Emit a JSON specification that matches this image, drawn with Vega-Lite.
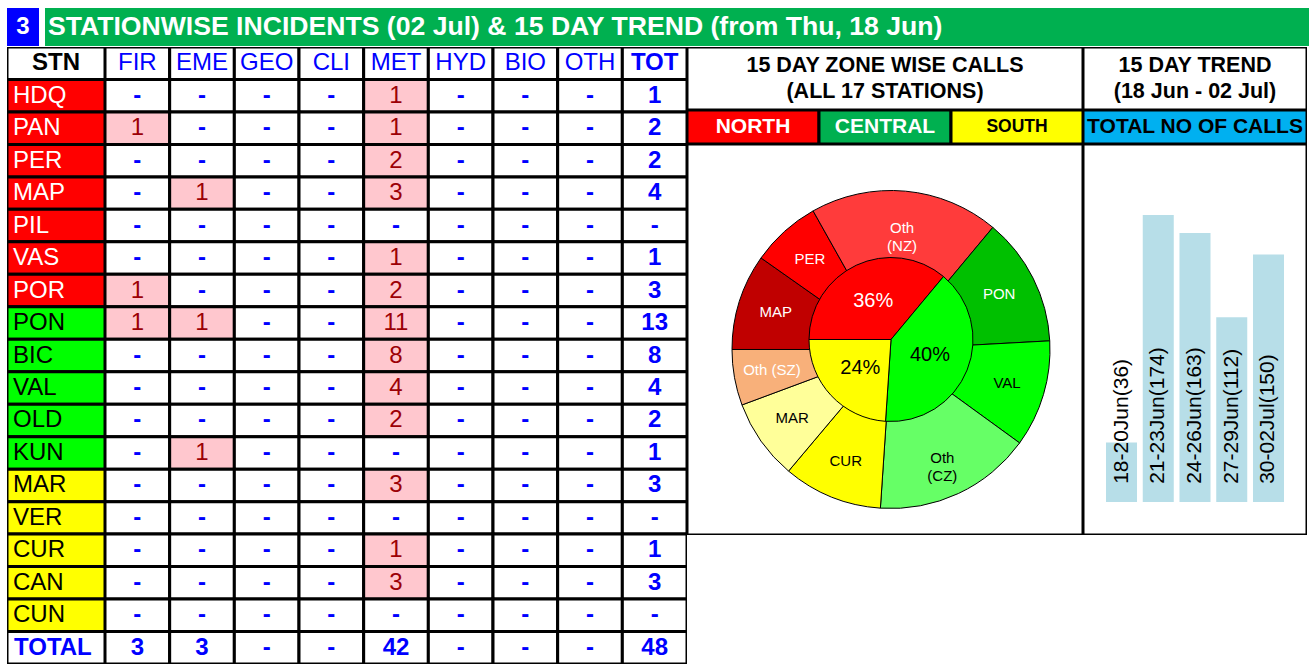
{
  "$schema": "https://vega.github.io/schema/vega-lite/v6.json",
  "padding": {"left": 7, "top": 8, "right": 0, "bottom": 0},
  "background": "white",
  "spacing": 1,
  "config": {"view": {"stroke": null}, "font": "Liberation Sans", "text": {"font": "Liberation Sans"}},
  "datasets": {
    "tbl": [
      {"stn": "STN", "zone": "H", "FIR": "FIR", "EME": "EME", "GEO": "GEO", "CLI": "CLI", "MET": "MET", "HYD": "HYD", "BIO": "BIO", "OTH": "OTH", "TOT": "TOT"},
      {"stn": "HDQ", "zone": "N", "FIR": "-", "EME": "-", "GEO": "-", "CLI": "-", "MET": "1", "HYD": "-", "BIO": "-", "OTH": "-", "TOT": "1"},
      {"stn": "PAN", "zone": "N", "FIR": "1", "EME": "-", "GEO": "-", "CLI": "-", "MET": "1", "HYD": "-", "BIO": "-", "OTH": "-", "TOT": "2"},
      {"stn": "PER", "zone": "N", "FIR": "-", "EME": "-", "GEO": "-", "CLI": "-", "MET": "2", "HYD": "-", "BIO": "-", "OTH": "-", "TOT": "2"},
      {"stn": "MAP", "zone": "N", "FIR": "-", "EME": "1", "GEO": "-", "CLI": "-", "MET": "3", "HYD": "-", "BIO": "-", "OTH": "-", "TOT": "4"},
      {"stn": "PIL", "zone": "N", "FIR": "-", "EME": "-", "GEO": "-", "CLI": "-", "MET": "-", "HYD": "-", "BIO": "-", "OTH": "-", "TOT": "-"},
      {"stn": "VAS", "zone": "N", "FIR": "-", "EME": "-", "GEO": "-", "CLI": "-", "MET": "1", "HYD": "-", "BIO": "-", "OTH": "-", "TOT": "1"},
      {"stn": "POR", "zone": "N", "FIR": "1", "EME": "-", "GEO": "-", "CLI": "-", "MET": "2", "HYD": "-", "BIO": "-", "OTH": "-", "TOT": "3"},
      {"stn": "PON", "zone": "C", "FIR": "1", "EME": "1", "GEO": "-", "CLI": "-", "MET": "11", "HYD": "-", "BIO": "-", "OTH": "-", "TOT": "13"},
      {"stn": "BIC", "zone": "C", "FIR": "-", "EME": "-", "GEO": "-", "CLI": "-", "MET": "8", "HYD": "-", "BIO": "-", "OTH": "-", "TOT": "8"},
      {"stn": "VAL", "zone": "C", "FIR": "-", "EME": "-", "GEO": "-", "CLI": "-", "MET": "4", "HYD": "-", "BIO": "-", "OTH": "-", "TOT": "4"},
      {"stn": "OLD", "zone": "C", "FIR": "-", "EME": "-", "GEO": "-", "CLI": "-", "MET": "2", "HYD": "-", "BIO": "-", "OTH": "-", "TOT": "2"},
      {"stn": "KUN", "zone": "C", "FIR": "-", "EME": "1", "GEO": "-", "CLI": "-", "MET": "-", "HYD": "-", "BIO": "-", "OTH": "-", "TOT": "1"},
      {"stn": "MAR", "zone": "S", "FIR": "-", "EME": "-", "GEO": "-", "CLI": "-", "MET": "3", "HYD": "-", "BIO": "-", "OTH": "-", "TOT": "3"},
      {"stn": "VER", "zone": "S", "FIR": "-", "EME": "-", "GEO": "-", "CLI": "-", "MET": "-", "HYD": "-", "BIO": "-", "OTH": "-", "TOT": "-"},
      {"stn": "CUR", "zone": "S", "FIR": "-", "EME": "-", "GEO": "-", "CLI": "-", "MET": "1", "HYD": "-", "BIO": "-", "OTH": "-", "TOT": "1"},
      {"stn": "CAN", "zone": "S", "FIR": "-", "EME": "-", "GEO": "-", "CLI": "-", "MET": "3", "HYD": "-", "BIO": "-", "OTH": "-", "TOT": "3"},
      {"stn": "CUN", "zone": "S", "FIR": "-", "EME": "-", "GEO": "-", "CLI": "-", "MET": "-", "HYD": "-", "BIO": "-", "OTH": "-", "TOT": "-"},
      {"stn": "TOTAL", "zone": "T", "FIR": "3", "EME": "3", "GEO": "-", "CLI": "-", "MET": "42", "HYD": "-", "BIO": "-", "OTH": "-", "TOT": "48"}
    ],
    "zones": [
      {"name": "North", "v": 229, "o": 1, "lab": "36%"},
      {"name": "Central", "v": 254, "o": 2, "lab": "40%"},
      {"name": "South", "v": 152, "o": 3, "lab": "24%"}
    ],
    "segs": [
      {"name": "MAP", "v": 62, "o": 1},
      {"name": "PER", "v": 45, "o": 2},
      {"name": "Oth|(NZ)", "v": 122, "o": 3},
      {"name": "PON", "v": 83, "o": 4},
      {"name": "VAL", "v": 69, "o": 5},
      {"name": "Oth|(CZ)", "v": 102, "o": 6},
      {"name": "CUR", "v": 64, "o": 7},
      {"name": "MAR", "v": 52, "o": 8},
      {"name": "Oth (SZ)", "v": 36, "o": 9}
    ],
    "trend": [
      {"p": "18-20Jun", "v": 36, "l": "18-20Jun(36)"},
      {"p": "21-23Jun", "v": 174, "l": "21-23Jun(174)"},
      {"p": "24-26Jun", "v": 163, "l": "24-26Jun(163)"},
      {"p": "27-29Jun", "v": 112, "l": "27-29Jun(112)"},
      {"p": "30-02Jul", "v": 150, "l": "30-02Jul(150)"}
    ]
  },
  "vconcat": [
    {
      "spacing": 6,
      "hconcat": [
        {
          "width": 32, "height": 38,
          "view": {"fill": "#0000ff", "stroke": null},
          "data": {"values": [{"t": "3"}]},
          "mark": {"type": "text", "fontSize": 24, "fontWeight": "bold", "color": "white"},
          "encoding": {"text": {"field": "t"}}
        },
        {
          "width": 1264, "height": 38,
          "view": {"fill": "#00b050", "stroke": null},
          "data": {"values": [{"t": "STATIONWISE INCIDENTS (02 Jul) & 15 DAY TREND (from Thu, 18 Jun)"}]},
          "mark": {"type": "text", "fontSize": 26.6, "fontWeight": "bold", "color": "white", "align": "left"},
          "encoding": {"text": {"field": "t"}, "x": {"value": 3}}
        }
      ]
    },
    {
      "spacing": 0,
      "hconcat": [
        {
          "width": 98, "height": 617,
          "data": {"name": "tbl"},
          "encoding": {
            "y": {"field": "stn", "type": "nominal", "scale": {"domain": ["STN","HDQ","PAN","PER","MAP","PIL","VAS","POR","PON","BIC","VAL","OLD","KUN","MAR","VER","CUR","CAN","CUN","TOTAL"], "paddingInner": 0, "paddingOuter": 0}, "axis": null}
          },
          "layer": [
            {
              "mark": {"type": "rect", "stroke": "black", "strokeWidth": 3, "clip": true},
              "encoding": {"fill": {"condition": [{"test": "datum.zone=='N'", "value": "#ff0000"}, {"test": "datum.zone=='C'", "value": "#00ff00"}, {"test": "datum.zone=='S'", "value": "#ffff00"}], "value": "white"}}
            },
            {
              "transform": [{"filter": "datum.zone=='N' || datum.zone=='C' || datum.zone=='S'"}],
              "mark": {"type": "text", "align": "left", "fontSize": 24},
              "encoding": {
                "x": {"value": 6},
                "text": {"field": "stn"},
                "color": {"condition": {"test": "datum.zone=='N'", "value": "white"}, "value": "black"}
              }
            },
            {
              "transform": [{"filter": "datum.zone=='T'"}],
              "mark": {"type": "text", "align": "left", "fontSize": 24, "fontWeight": "bold", "color": "#0000ff"},
              "encoding": {"x": {"value": 7}, "text": {"field": "stn"}}
            },
            {
              "transform": [{"filter": "datum.zone=='H'"}],
              "mark": {"type": "text", "fontSize": 24, "fontWeight": "bold", "color": "black"},
              "encoding": {"text": {"field": "stn"}}
            }
          ]
        },
        {
          "width": 582, "height": 617,
          "data": {"name": "tbl"},
          "transform": [{"fold": ["FIR","EME","GEO","CLI","MET","HYD","BIO","OTH","TOT"], "as": ["col","t"]}],
          "encoding": {
            "x": {"field": "col", "type": "nominal", "scale": {"domain": ["FIR","EME","GEO","CLI","MET","HYD","BIO","OTH","TOT"], "paddingInner": 0, "paddingOuter": 0}, "axis": null},
            "y": {"field": "stn", "type": "nominal", "scale": {"domain": ["STN","HDQ","PAN","PER","MAP","PIL","VAS","POR","PON","BIC","VAL","OLD","KUN","MAR","VER","CUR","CAN","CUN","TOTAL"], "paddingInner": 0, "paddingOuter": 0}, "axis": null}
          },
          "layer": [
            {
              "mark": {"type": "rect", "stroke": "black", "strokeWidth": 3, "clip": true},
              "encoding": {"fill": {"condition": {"test": "datum.stn!='STN' && datum.stn!='TOTAL' && datum.col!='TOT' && datum.t!='-'", "value": "#ffc7ce"}, "value": "white"}}
            },
            {
              "transform": [{"filter": "(datum.stn=='STN' && datum.col!='TOT') || (datum.stn!='STN' && datum.stn!='TOTAL' && datum.col!='TOT' && datum.t!='-')"}],
              "mark": {"type": "text", "fontSize": 24},
              "encoding": {
                "text": {"field": "t"},
                "color": {"condition": {"test": "datum.stn=='STN'", "value": "#0000ff"}, "value": "#9c0006"}
              }
            },
            {
              "transform": [{"filter": "!((datum.stn=='STN' && datum.col!='TOT') || (datum.stn!='STN' && datum.stn!='TOTAL' && datum.col!='TOT' && datum.t!='-'))"}],
              "mark": {"type": "text", "fontSize": 24, "fontWeight": "bold", "color": "#0000ff"},
              "encoding": {"text": {"field": "t"}}
            }
          ]
        },
        {
          "spacing": 0,
          "vconcat": [
            {
              "spacing": 0,
              "hconcat": [
                {
                  "width": 396, "height": 63,
                  "layer": [
                    {
                      "data": {"values": [{"b": 1}]},
                      "mark": {"type": "rect", "fill": "white", "stroke": "black", "strokeWidth": 3, "clip": true},
                      "encoding": {}
                    },
                    {
                      "data": {"values": [{"t": "15 DAY ZONE WISE CALLS|(ALL 17 STATIONS)"}]},
                      "mark": {"type": "text", "fontSize": 21.5, "fontWeight": "bold", "lineBreak": "|", "lineHeight": 26, "color": "black", "dy": -13},
                      "encoding": {"text": {"field": "t"}}
                    }
                  ]
                },
                {
                  "width": 224, "height": 63,
                  "layer": [
                    {
                      "data": {"values": [{"b": 1}]},
                      "mark": {"type": "rect", "fill": "white", "stroke": "black", "strokeWidth": 3, "clip": true},
                      "encoding": {}
                    },
                    {
                      "data": {"values": [{"t": "15 DAY TREND|(18 Jun - 02 Jul)"}]},
                      "mark": {"type": "text", "fontSize": 21.5, "fontWeight": "bold", "lineBreak": "|", "lineHeight": 26, "color": "black", "dy": -13},
                      "encoding": {"text": {"field": "t"}}
                    }
                  ]
                }
              ]
            },
            {
              "spacing": 0,
              "hconcat": [
                {
                  "width": 396, "height": 34,
                  "data": {"values": [{"z": "NORTH"}, {"z": "CENTRAL"}, {"z": "SOUTH"}]},
                  "encoding": {"x": {"field": "z", "type": "nominal", "scale": {"domain": ["NORTH","CENTRAL","SOUTH"], "paddingInner": 0, "paddingOuter": 0}, "axis": null}},
                  "layer": [
                    {
                      "mark": {"type": "rect", "stroke": "black", "strokeWidth": 3, "clip": true},
                      "encoding": {"fill": {"condition": [{"test": "datum.z=='NORTH'", "value": "#ff0000"}, {"test": "datum.z=='CENTRAL'", "value": "#00b050"}], "value": "#ffff00"}}
                    },
                    {
                      "mark": {"type": "text", "fontWeight": "bold"},
                      "encoding": {
                        "text": {"field": "z"},
                        "color": {"condition": {"test": "datum.z=='SOUTH'", "value": "black"}, "value": "white"},
                        "size": {"condition": {"test": "datum.z=='SOUTH'", "value": 17.5}, "value": 21}
                      }
                    }
                  ]
                },
                {
                  "width": 224, "height": 34,
                  "layer": [
                    {
                      "data": {"values": [{"b": 1}]},
                      "mark": {"type": "rect", "fill": "#00b0f0", "stroke": "black", "strokeWidth": 3, "clip": true},
                      "encoding": {}
                    },
                    {
                      "data": {"values": [{"t": "TOTAL NO OF CALLS"}]},
                      "mark": {"type": "text", "fontSize": 21, "fontWeight": "bold", "color": "black"},
                      "encoding": {"text": {"field": "t"}}
                    }
                  ]
                }
              ]
            },
            {
              "spacing": 0,
              "hconcat": [
                {
                  "width": 396, "height": 391,
                  "layer": [
                    {
                      "data": {"values": [{"b": 1}]},
                      "mark": {"type": "rect", "fill": "white", "stroke": "black", "strokeWidth": 3, "clip": true},
                      "encoding": {}
                    },
                    {
                      "data": {"name": "segs"},
                      "mark": {"type": "arc", "outerRadius": 159, "innerRadius": 0, "stroke": "black", "strokeWidth": 1, "xOffset": 6, "yOffset": 10},
                      "encoding": {
                        "theta": {"field": "v", "type": "quantitative", "stack": true, "scale": {"range": [-1.5708, 4.7124]}},
                        "order": {"field": "o"},
                        "color": {"field": "name", "type": "nominal", "scale": {"domain": ["North","Central","South","MAP","PER","Oth|(NZ)","PON","VAL","Oth|(CZ)","CUR","MAR","Oth (SZ)"], "range": ["#ff0000","#00ff00","#ffff00","#c00000","#ff0000","#ff3b3b","#00c000","#00ff00","#66ff66","#ffff00","#ffff99","#f8b07a"]}, "legend": null}
                      }
                    },
                    {
                      "data": {"name": "zones"},
                      "mark": {"type": "arc", "outerRadius": 82, "innerRadius": 0, "stroke": "black", "strokeWidth": 1, "xOffset": 6, "yOffset": 0},
                      "encoding": {
                        "theta": {"field": "v", "type": "quantitative", "stack": true, "scale": {"range": [-1.5708, 4.7124]}},
                        "order": {"field": "o"},
                        "color": {"field": "name", "type": "nominal", "legend": null}
                      }
                    },
                    {
                      "data": {"name": "segs"},
                      "mark": {"type": "text", "radius": 121, "fontSize": 15, "lineBreak": "|", "lineHeight": 18, "xOffset": 6, "yOffset": 9},
                      "encoding": {
                        "theta": {"field": "v", "type": "quantitative", "stack": true},
                        "order": {"field": "o"},
                        "text": {"field": "name"},
                        "fill": {"condition": {"test": "datum.name=='VAL' || datum.name=='Oth|(CZ)' || datum.name=='CUR' || datum.name=='MAR'", "value": "black"}, "value": "white"}
                      }
                    },
                    {
                      "data": {"name": "zones"},
                      "mark": {"type": "text", "radius": 42, "fontSize": 20, "xOffset": 6, "yOffset": 0},
                      "encoding": {
                        "theta": {"field": "v", "type": "quantitative", "stack": true},
                        "order": {"field": "o"},
                        "text": {"field": "lab"},
                        "fill": {"condition": {"test": "datum.name=='North'", "value": "white"}, "value": "black"}
                      }
                    }
                  ]
                },
                {
                  "width": 224, "height": 391,
                  "layer": [
                    {
                      "data": {"values": [{"b": 1}]},
                      "mark": {"type": "rect", "fill": "white", "stroke": "black", "strokeWidth": 3, "clip": true},
                      "encoding": {}
                    },
                    {
                      "data": {"name": "trend"},
                      "mark": {"type": "bar", "color": "#b7dee8"},
                      "encoding": {
                        "x": {"field": "p", "type": "nominal", "sort": null, "scale": {"paddingInner": 0.156, "paddingOuter": 0.626}, "axis": null},
                        "y": {"field": "v", "type": "quantitative", "scale": {"domain": [-20, 217], "nice": false, "zero": false}, "axis": null},
                        "y2": {"datum": 0}
                      }
                    },
                    {
                      "data": {"name": "trend"},
                      "mark": {"type": "text", "angle": 270, "align": "left", "baseline": "middle", "fontSize": 21, "color": "black"},
                      "encoding": {
                        "x": {"field": "p", "type": "nominal", "sort": null},
                        "y": {"datum": 11, "type": "quantitative"},
                        "text": {"field": "l"}
                      }
                    }
                  ]
                }
              ]
            }
          ]
        }
      ]
    }
  ]
}
